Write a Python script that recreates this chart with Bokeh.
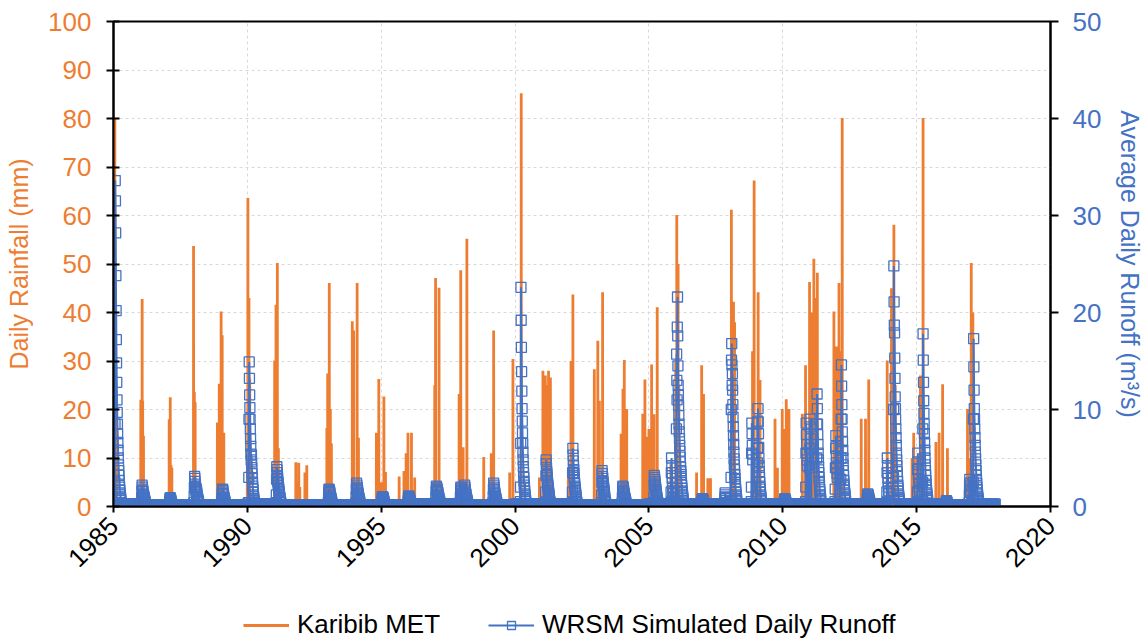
import numpy as np
from bokeh.plotting import figure
from bokeh.layouts import column
from bokeh.models import Range1d, LinearAxis, Legend, LegendItem, FixedTicker, ColumnDataSource
from bokeh.embed import file_html
from bokeh.resources import INLINE

# ---------------- data ----------------
# Karibib MET daily rainfall spikes (decimal year, mm)
rain_year = [1985.02, 1985.05, 1985.08, 1985.12,
             1986.02, 1986.07, 1986.09, 1986.12,
             1987.08, 1987.12, 1987.15, 1987.18,
             1987.95, 1987.99, 1988.02, 1988.03, 1988.05,
             1988.88, 1988.95, 1988.98, 1989.02, 1989.06, 1989.12,
             1990.00, 1990.02, 1990.06, 1990.09,
             1991.02, 1991.07, 1991.12, 1991.16,
             1991.81, 1991.86, 1991.92, 1991.96, 1992.15, 1992.22,
             1992.97, 1993.00, 1993.06, 1993.10, 1993.14,
             1993.92, 1993.97, 1994.10, 1994.15,
             1994.82, 1994.91, 1995.00, 1995.10, 1995.16,
             1995.67, 1995.85, 1995.93, 1996.00, 1996.13, 1996.25,
             1997.00, 1997.03, 1997.16,
             1997.91, 1997.97, 1998.06, 1998.20,
             1998.60, 1998.83, 1999.11, 1999.20,
             1999.80, 1999.92, 2000.23,
             2000.91, 2001.04, 2001.13, 2001.20, 2001.25, 2001.32,
             2001.99, 2002.09, 2002.16,
             2002.96, 2003.09, 2003.15, 2003.27,
             2003.96, 2004.03, 2004.08, 2004.17,
             2004.77, 2004.85, 2004.93, 2005.00, 2005.10, 2005.19, 2005.31,
             2005.82, 2006.00, 2006.04, 2006.09, 2006.12,
             2006.78, 2006.97, 2007.04, 2007.20, 2007.30,
             2007.81, 2008.08, 2008.16, 2008.20,
             2008.87, 2008.93, 2009.08, 2009.15,
             2009.71, 2009.80, 2009.98, 2010.05, 2010.13, 2010.23,
             2010.73, 2010.85, 2011.00, 2011.08, 2011.16, 2011.22, 2011.29,
             2011.91, 2012.00, 2012.10, 2012.15, 2012.22,
             2012.93, 2013.09, 2013.21,
             2013.90, 2014.06, 2014.15, 2014.20,
             2014.83, 2014.89, 2015.00, 2015.14, 2015.24,
             2015.72, 2015.84, 2015.97, 2016.15,
             2016.90, 2016.98, 2017.04, 2017.10]
rain_mm = [25, 80, 40, 15,
           22, 42.8, 21.8, 14.6,
           18, 22.5, 8.5, 8,
           5, 53.7, 23.6, 15, 21.5,
           17.3, 25.3, 10, 40.2, 35.3, 15.2,
           10, 63.6, 43, 26.4,
           30.1, 41.6, 50.2, 12,
           9.1, 5, 9, 4, 7, 8.5,
           16.2, 27.4, 46.1, 20.1, 13,
           38.2, 36.3, 46.1, 14.2,
           15.2, 26.3, 5, 22.7, 7.1,
           6.2, 7.3, 11, 15.2, 15.2, 6,
           25, 47.1, 45.1,
           23.2, 48.7, 12.2, 55.2,
           1.5, 10.2, 11, 36.3,
           7, 30.4, 85.2,
           6, 28, 27, 25, 28, 26.6,
           8, 30, 43.7,
           28.3, 34.2, 21.8, 44.2,
           15, 24.3, 30.2, 20.1,
           19.1, 26.2, 14.4, 16, 29.3, 19, 41.1,
           8.7, 30, 60.1, 50, 25,
           7, 29.1, 23.2, 5.8, 5.8,
           1, 61.2, 42.2, 38,
           32, 67.2, 44.2, 26.1,
           18.1, 8, 20.1, 16, 22.1, 20.1,
           19.1, 29.1, 46.3, 40, 51.1, 43, 48.2,
           40.2, 33, 46.1, 32, 80.1,
           18.1, 18.1, 26.2,
           30.1, 45, 58.1, 25,
           10, 15.2, 10, 27, 80.1,
           13.3, 15.2, 25.2, 12,
           20.1, 10, 50.2, 40]

# WRSM simulated daily runoff: runoff events (start decimal year, values every 3 days, m3/s)
runoff_start = [1985.04, 1986.045, 1987.095, 1988.005, 1989.045, 1990.045, 1991.075,
                1993.025, 1994.055, 1995.02, 1996.0, 1997.035, 1997.95, 1998.10,
                1999.175, 2000.195, 2001.135, 2002.135, 2003.225, 2004.0, 2005.175,
                2005.82, 2006.01, 2006.97, 2007.83, 2008.06, 2008.82, 2009.05,
                2010.05, 2010.85, 2011.0, 2011.265, 2011.95, 2012.165, 2013.15,
                2013.88, 2014.125, 2015.02, 2015.215, 2016.1, 2016.96, 2017.105]
runoff_values = [
    [0.4, 2.5, 8.5, 33.6, 31.5, 28.2, 23.8, 20.2, 17.2, 14.8, 12.8, 11.0, 9.7, 8.5, 7.5, 6.6, 5.8, 5.0, 4.3, 3.7, 3.2, 2.7, 2.3, 2.0, 1.7, 1.4, 1.2, 1.0, 0.8, 0.6, 0.4],
    [0.4, 0.9, 1.6, 2.2, 2.0, 1.8, 1.6, 1.5, 1.3, 1.2, 1.1, 1.0, 0.9, 0.8, 0.7, 0.6, 0.5, 0.4],
    [0.3, 0.6, 0.8, 0.9, 0.8, 0.7, 0.6, 0.5, 0.4, 0.3],
    [0.4, 1.0, 2.0, 3.1, 2.9, 2.6, 2.3, 2.1, 1.9, 1.7, 1.5, 1.8, 1.6, 1.4, 1.2, 1.0, 0.9, 0.8, 0.7, 0.6, 0.5, 0.4],
    [0.4, 0.8, 1.3, 1.8, 1.7, 1.6, 1.4, 1.3, 1.2, 1.0, 0.9, 0.8, 0.7, 0.6, 0.5, 0.4],
    [0.4, 3.0, 9.0, 14.9, 13.2, 11.5, 10.2, 9.0, 8.0, 7.0, 6.2, 5.4, 4.8, 5.3, 4.6, 4.0, 3.4, 2.9, 2.5, 2.1, 1.8, 1.5, 1.2, 1.0, 0.8, 0.6, 0.4],
    [0.4, 1.2, 2.8, 4.1, 3.8, 3.5, 3.2, 2.9, 2.6, 2.4, 2.2, 2.0, 1.8, 1.6, 1.4, 1.2, 1.0, 0.9, 0.8, 0.6, 0.5, 0.4],
    [0.4, 0.9, 1.4, 1.8, 1.7, 1.6, 1.5, 1.4, 1.2, 1.1, 1.0, 0.9, 0.8, 0.7, 0.6, 0.5, 0.4],
    [0.4, 1.0, 1.8, 2.4, 2.2, 2.0, 1.9, 1.7, 1.6, 1.4, 1.3, 1.2, 1.0, 0.9, 0.8, 0.7, 0.6, 0.5, 0.4],
    [0.3, 0.6, 0.9, 1.0, 1.0, 0.9, 0.9, 0.8, 0.7, 0.6, 0.5, 0.4, 0.3],
    [0.3, 0.6, 0.9, 1.1, 1.0, 1.0, 0.9, 0.8, 0.7, 0.6, 0.5, 0.4, 0.3],
    [0.4, 1.0, 1.6, 2.1, 2.0, 1.9, 1.8, 1.7, 1.6, 1.5, 1.4, 1.2, 1.1, 1.0, 0.9, 0.8, 0.7, 0.6, 0.5, 0.4],
    [0.4, 1.0, 1.6, 2.0, 1.9, 1.8, 1.6, 1.4, 1.3, 1.2, 1.1, 1.0, 0.9],
    [0.9, 1.4, 2.2, 2.0, 1.8, 1.6, 1.4, 1.3, 1.2, 1.0, 0.9, 0.8, 0.7, 0.6, 0.5, 0.4],
    [0.4, 1.0, 1.8, 2.4, 2.2, 2.0, 1.8, 1.6, 1.4, 1.3, 1.1, 1.0, 0.9, 0.8, 0.7, 0.6, 0.5, 0.4],
    [0.5, 2.0, 6.5, 22.6, 19.2, 16.4, 13.9, 11.9, 10.1, 8.8, 7.6, 6.5, 5.6, 4.8, 4.1, 3.5, 3.0, 2.6, 2.2, 1.9, 1.6, 1.3, 1.1, 0.9, 0.7, 0.5],
    [0.4, 1.5, 3.2, 4.8, 4.4, 4.0, 3.6, 3.3, 3.0, 2.7, 2.4, 2.2, 2.0, 1.8, 1.6, 1.4, 1.2, 1.0, 0.8, 0.6, 0.5, 0.4],
    [0.4, 1.5, 3.5, 6.0, 5.3, 4.7, 4.2, 3.8, 3.4, 3.0, 2.7, 2.4, 2.1, 1.9, 1.7, 1.5, 1.3, 1.1, 0.9, 0.7, 0.5, 0.4],
    [0.4, 1.2, 2.5, 3.7, 3.4, 3.1, 2.9, 2.6, 2.4, 2.2, 2.0, 1.8, 1.6, 1.4, 1.2, 1.0, 0.8, 0.6, 0.5, 0.4],
    [0.4, 0.9, 1.5, 2.1, 2.0, 1.9, 1.7, 1.6, 1.4, 1.3, 1.2, 1.0, 0.9, 0.8, 0.7, 0.6, 0.5, 0.4],
    [0.4, 1.0, 2.2, 3.2, 3.0, 2.8, 2.6, 2.4, 2.2, 2.0, 1.8, 1.6, 1.4, 1.2, 1.0, 0.9, 0.7, 0.6, 0.5, 0.4],
    [0.4, 1.5, 3.5, 5.0, 4.2, 3.5, 2.9, 2.4, 2.0, 1.6, 1.3, 1.0, 0.8, 0.6],
    [0.5, 2.5, 8.0, 15.7, 13.0, 11.0, 18.5, 21.6, 17.6, 14.5, 12.5, 11.5, 10.4, 9.4, 8.5, 7.7, 7.0, 6.3, 5.7, 5.1, 4.6, 4.1, 3.7, 3.3, 2.9, 2.5, 2.2, 1.9, 1.6, 1.4, 1.2, 1.0, 0.8, 0.6],
    [0.3, 0.5, 0.7, 0.8, 0.8, 0.7, 0.7, 0.6, 0.5, 0.4, 0.3],
    [0.4, 0.9, 1.4, 1.2, 1.0, 0.8, 0.6, 0.4],
    [0.5, 3.0, 10.0, 15.1, 16.8, 14.6, 12.5, 13.7, 12.0, 10.5, 9.2, 8.2, 7.3, 6.4, 5.6, 4.9, 4.3, 3.8, 3.3, 2.9, 2.5, 2.1, 1.8, 1.5, 1.2, 1.0, 0.8, 0.6],
    [0.5, 2.0, 5.5, 8.6, 7.5, 6.3, 5.4, 4.8],
    [4.5, 6.0, 8.8, 10.1, 8.7, 7.5, 6.1, 5.0, 4.2, 3.6, 3.0, 2.5, 2.1, 1.8, 1.5, 1.2, 1.0, 0.8, 0.6],
    [0.3, 0.5, 0.7, 0.8, 0.7, 0.7, 0.6, 0.5, 0.4, 0.3],
    [0.5, 2.0, 5.5, 8.6, 7.4, 6.4, 5.5, 4.8, 4.2],
    [4.0, 6.0, 9.0, 8.2, 7.0, 6.0, 5.2],
    [5.0, 8.5, 11.6, 10.1, 8.5, 7.4, 6.4, 5.5, 4.8, 4.1, 3.5, 3.0, 2.6, 2.2, 1.8, 1.5, 1.2, 1.0, 0.8, 0.6],
    [0.5, 1.8, 4.0, 6.0, 7.3, 6.2, 5.2, 4.5, 3.9, 3.4, 3.0],
    [2.8, 5.0, 9.0, 14.6, 12.4, 10.5, 9.0, 7.7, 6.7, 5.8, 5.0, 4.3, 3.7, 3.2, 2.7, 2.3, 2.0, 1.7, 1.4, 1.2, 1.0, 0.8, 0.6],
    [0.4, 0.8, 1.1, 1.3, 1.2, 1.1, 1.0, 0.9, 0.8, 0.7, 0.6, 0.5, 0.4],
    [0.4, 1.5, 3.5, 5.0, 4.2, 3.5, 2.9, 2.4, 2.0, 1.6, 1.3],
    [0.6, 3.0, 10.0, 24.8, 21.1, 18.7, 17.9, 15.3, 13.2, 11.3, 10.1, 9.0, 8.0, 7.1, 6.3, 5.5, 4.8, 4.2, 3.6, 3.1, 2.6, 2.2, 1.9, 1.6, 1.3, 1.1, 0.9, 0.7, 0.5],
    [0.4, 1.5, 3.8, 5.5, 4.6, 3.9, 3.3, 2.8, 2.4, 2.0, 1.7, 1.5],
    [0.5, 2.5, 8.0, 17.8, 15.1, 12.8, 10.9, 9.6, 8.5, 7.5, 6.6, 5.8, 5.0, 4.3, 3.7, 3.2, 2.7, 2.3, 2.0, 1.7, 1.4, 1.2, 1.0, 0.8, 0.6],
    [0.3, 0.5, 0.6, 0.5, 0.4, 0.3],
    [0.4, 1.2, 2.2, 2.8, 2.4, 2.0, 1.7, 1.5],
    [0.6, 2.5, 9.0, 17.3, 14.4, 12.0, 10.1, 9.0, 8.0, 7.1, 6.3, 5.6, 4.9, 4.3, 3.7, 3.2, 2.8, 2.4, 2.0, 1.7, 1.4, 1.2, 1.0, 0.8, 0.6, 0.5],
]
# low-flow level between events, per year (m3/s)
baseline_year = list(range(1985, 2018))
baseline_level = [0.25, 0.2, 0.2, 0.2, 0.2, 0.25, 0.2, 0.15, 0.2, 0.2, 0.2, 0.25, 0.25, 0.2,
                  0.2, 0.25, 0.25, 0.2, 0.2, 0.2, 0.25, 0.3, 0.25, 0.3, 0.3, 0.25, 0.3, 0.3,
                  0.25, 0.3, 0.3, 0.2, 0.25]
series_end = 2017.94

x_ticks = [1985, 1990, 1995, 2000, 2005, 2010, 2015, 2020]
left_ticks = [0, 10, 20, 30, 40, 50, 60, 70, 80, 90, 100]
right_ticks = [0, 10, 20, 30, 40, 50]
series_names = ["Karibib MET", "WRSM Simulated Daily Runoff"]

# ---------------- build series ----------------
order = np.argsort(rain_year)
rx, ry = [1985.0], [0.0]
for i in order:
    t, v = rain_year[i], rain_mm[i]
    rx += [t - 0.003, t, t + 0.003]
    ry += [0.0, v, 0.0]
rx.append(series_end)
ry.append(0.0)

STEP = 3 / 365.25
pts = []
windows = []
for s, vals in zip(runoff_start, runoff_values):
    xs = [s + k * STEP for k in range(len(vals))]
    windows.append((xs[0], xs[-1]))
    pts += list(zip(xs, vals))
for yr, lvl in zip(baseline_year, baseline_level):
    for d in range(0, 366, 9):
        t = yr + d / 365.25
        if t > series_end or t >= yr + 1:
            continue
        if any(a - 0.008 <= t <= b + 0.008 for a, b in windows):
            continue
        pts.append((t, lvl))
pts.sort()
qx = [p[0] for p in pts]
qy = [p[1] for p in pts]

ORANGE = "#ED7D31"
BLUE = "#4472C4"
FONT = "Liberation Sans"

# ---------------- main chart ----------------
p = figure(width=1147, height=601, output_backend="svg", toolbar_location=None,
           x_range=Range1d(1985, 2020), y_range=Range1d(0, 100),
           min_border_left=113, min_border_right=95, min_border_top=21,
           min_border_bottom=95)
p.extra_y_ranges = {"runoff": Range1d(0, 50)}

p.line(rx, ry, line_color=ORANGE, line_width=2.8)
src = ColumnDataSource(dict(x=qx, y=qy))
p.line("x", "y", source=src, y_range_name="runoff", line_color=BLUE, line_width=2)
p.scatter("x", "y", source=src, y_range_name="runoff", marker="square", size=10,
          line_color=BLUE, line_width=1.3, fill_alpha=0)

p.xaxis.ticker = FixedTicker(ticks=x_ticks)
p.yaxis.ticker = FixedTicker(ticks=left_ticks)
right = LinearAxis(y_range_name="runoff", ticker=FixedTicker(ticks=right_ticks),
                   axis_label="Average Daily Runoff (m\u00b3/s)")
p.add_layout(right, "right")
p.yaxis[0].axis_label = "Daily Rainfall (mm)"

for ax in [p.xaxis[0], p.yaxis[0], right]:
    ax.axis_line_color = "black"
    ax.axis_line_width = 2
    ax.major_tick_line_color = "black"
    ax.major_tick_line_width = 2
    ax.minor_tick_line_color = None
    ax.major_label_text_font = FONT
    ax.major_label_text_font_size = "26px"
    ax.axis_label_text_font = FONT
    ax.axis_label_text_font_size = "25px"
    ax.axis_label_text_font_style = "normal"

p.xaxis.major_tick_in = 0
p.xaxis.major_tick_out = 6
p.xaxis.major_label_orientation = np.pi / 4
p.xaxis.major_label_text_color = "black"
p.xaxis.major_label_standoff = 9

p.yaxis[0].major_tick_in = 6
p.yaxis[0].major_tick_out = 7
p.yaxis[0].major_label_text_color = ORANGE
p.yaxis[0].axis_label_text_color = ORANGE
p.yaxis[0].major_label_standoff = 15
p.yaxis[0].axis_label_standoff = 12

right.major_tick_in = 0
right.major_tick_out = 8
right.major_label_text_color = BLUE
right.axis_label_text_color = BLUE
right.major_label_standoff = 14
right.axis_label_standoff = 12

p.xgrid.ticker = FixedTicker(ticks=x_ticks)
p.ygrid.ticker = FixedTicker(ticks=left_ticks)
for g in [p.xgrid[0], p.ygrid[0]]:
    g.grid_line_color = "#D9D9D9"
    g.grid_line_dash = "3 3"
    g.grid_line_width = 1

p.outline_line_color = "black"
p.outline_line_width = 2
p.background_fill_color = "white"
p.border_fill_color = "white"

# ---------------- legend strip below the chart ----------------
lf = figure(width=1147, height=40, output_backend="svg", toolbar_location=None,
            x_range=Range1d(0, 1), y_range=Range1d(0, 1),
            min_border_left=0, min_border_right=0, min_border_top=0, min_border_bottom=0)
lf.axis.visible = False
lf.grid.visible = False
lf.outline_line_color = None
lf.background_fill_color = "white"
lf.border_fill_color = "white"
# legend-only renderers: their single point lies outside the strip's ranges, so only the legend shows them
leg_rain = lf.line([-5, -4], [-5, -5], line_color=ORANGE, line_width=2.8)
leg_run_line = lf.line([-5, -4], [-5, -5], line_color=BLUE, line_width=2)
leg_run_sq = lf.scatter([-5], [-5], marker="square", size=10, line_color=BLUE, line_width=1.3,
                        fill_alpha=0)

legend = Legend(items=[LegendItem(label=series_names[0], renderers=[leg_rain]),
                       LegendItem(label=series_names[1], renderers=[leg_run_line, leg_run_sq])],
                orientation="horizontal", location=(130, 1),
                label_text_font=FONT, label_text_font_size="26px", label_text_color="black",
                glyph_width=46, label_standoff=8, spacing=48,
                border_line_color=None, background_fill_alpha=0, margin=0, padding=0)
lf.add_layout(legend, "center")

layout = column(p, lf, spacing=0)
open("out.html", "w").write(file_html(layout, INLINE))
